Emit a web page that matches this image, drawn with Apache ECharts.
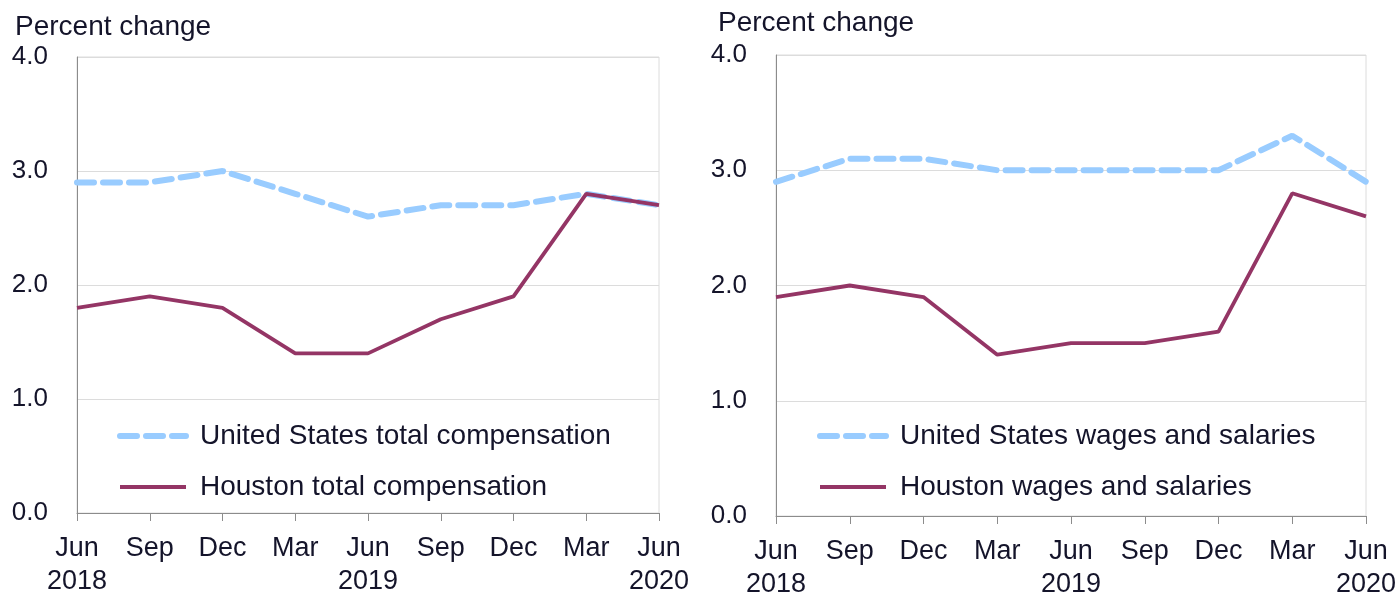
<!DOCTYPE html>
<html>
<head>
<meta charset="utf-8">
<script src="https://cdn.jsdelivr.net/npm/echarts@6/dist/echarts.min.js"></script>
<style>
html,body{margin:0;padding:0;background:#fff;}
#c{width:1396px;height:593px;}
</style>
</head>
<body>
<div id="c"></div>
<script>
const categories = ["Jun\n2018","Sep","Dec","Mar","Jun\n2019","Sep","Dec","Mar","Jun\n2020"];
const usTotalComp = [2.9, 2.9, 3.0, 2.8, 2.6, 2.7, 2.7, 2.8, 2.7];
const houstonTotalComp = [1.8, 1.9, 1.8, 1.4, 1.4, 1.7, 1.9, 2.8, 2.7];
const usWages = [2.9, 3.1, 3.1, 3.0, 3.0, 3.0, 3.0, 3.3, 2.9];
const houstonWages = [1.9, 2.0, 1.9, 1.4, 1.5, 1.5, 1.6, 2.8, 2.6];
const yTicks = [0, 1, 2, 3, 4];

const TXT = '#14142a';
const US_COLOR = '#99ccff';
const HOU_COLOR = '#943565';
const FONT = 'Liberation Sans, Arial, sans-serif';
const US_LINE = {color:US_COLOR, width:6, type:[17,9], cap:'round'};
const HOU_LINE = {color:HOU_COLOR, width:3.8};

function xAxis(gi){
  return {
    type:'category', gridIndex:gi, data:categories, boundaryGap:false,
    axisLine:{show:true, lineStyle:{color:'#8c8c8c', width:1}},
    axisTick:{show:true, length:8, lineStyle:{color:'#8c8c8c'}},
    axisLabel:{interval:0, color:TXT, fontFamily:FONT, fontSize:27, lineHeight:33, margin:19},
    splitLine:{show:false}
  };
}
function yAxis(gi){
  return {
    type:'value', gridIndex:gi, min:yTicks[0], max:yTicks[yTicks.length-1], interval:1,
    axisLine:{show:true, lineStyle:{color:'#8c8c8c', width:1}},
    axisTick:{show:false},
    axisLabel:{color:TXT, fontFamily:FONT, fontSize:26, margin:29, formatter:v=>v.toFixed(1)},
    splitLine:{show:true, lineStyle:{color:'#dcdcdc', width:1}}
  };
}
function series(name, data, idx, ls, z){
  return {name, type:'line', xAxisIndex:idx, yAxisIndex:idx, data, symbol:'none', z,
    lineStyle:ls, itemStyle:{color:ls.color}};
}
function legend(left, usName, houName){
  return {
    orient:'vertical', left:left, top:417, itemWidth:66, itemHeight:14, itemGap:23,
    data:[
      {name:usName, itemStyle:{opacity:0}, lineStyle:US_LINE},
      {name:houName, itemStyle:{opacity:0}, lineStyle:HOU_LINE}
    ],
    textStyle:{color:TXT, fontFamily:FONT, fontSize:28, padding:[0,0,0,9]},
    selectedMode:false
  };
}

const chart = echarts.init(document.getElementById('c'), null, {renderer:'canvas'});
chart.setOption({
  animation:false,
  backgroundColor:'#fff',
  title:[
    {text:'Percent change', left:10, top:8, textStyle:{color:TXT, fontFamily:FONT, fontSize:28, fontWeight:'normal'}},
    {text:'Percent change', left:713, top:4, textStyle:{color:TXT, fontFamily:FONT, fontSize:28, fontWeight:'normal'}}
  ],
  grid:[
    {left:77, top:57, width:582, height:456, show:true, borderColor:'#dcdcdc', borderWidth:1, containLabel:false, outerBoundsMode:'none'},
    {left:776, top:55, width:590, height:461, show:true, borderColor:'#dcdcdc', borderWidth:1, containLabel:false, outerBoundsMode:'none'}
  ],
  xAxis:[xAxis(0), xAxis(1)],
  yAxis:[yAxis(0), yAxis(1)],
  legend:[
    legend(112, 'United States total compensation', 'Houston total compensation'),
    legend(812, 'United States wages and salaries', 'Houston wages and salaries')
  ],
  series:[
    series('United States total compensation', usTotalComp, 0, US_LINE, 2),
    series('Houston total compensation', houstonTotalComp, 0, HOU_LINE, 3),
    series('United States wages and salaries', usWages, 1, US_LINE, 2),
    series('Houston wages and salaries', houstonWages, 1, HOU_LINE, 3)
  ]
});
</script>
</body>
</html>
